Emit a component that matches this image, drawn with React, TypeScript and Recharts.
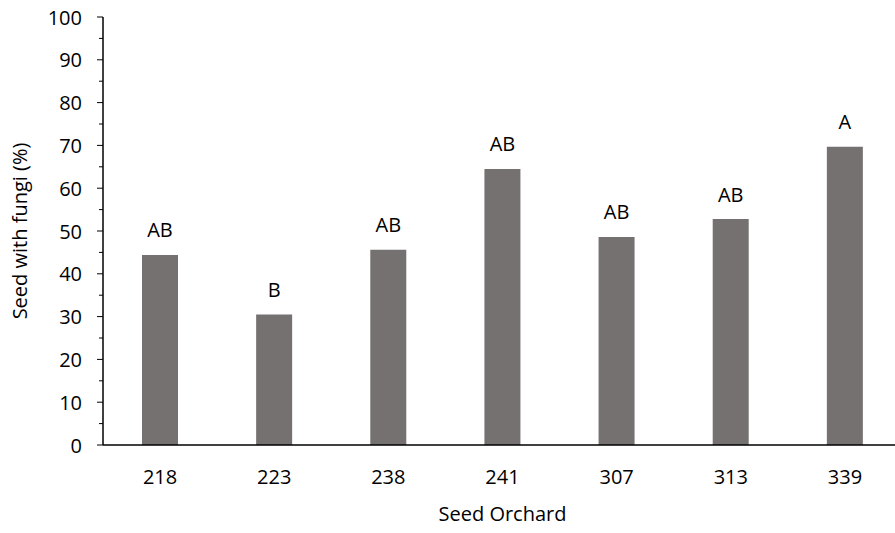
import { BarChart, Bar, XAxis, YAxis, LabelList, Label } from "recharts";

const orchards = ["218", "223", "238", "241", "307", "313", "339"];
const fungiPct = [44.4, 30.5, 45.6, 64.5, 48.6, 52.8, 69.7];
const groups = ["AB", "B", "AB", "AB", "AB", "AB", "A"];
const yTicks = [0, 5, 10, 15, 20, 25, 30, 35, 40, 45, 50, 55, 60, 65, 70, 75, 80, 85, 90, 95, 100];

const data = orchards.map((o, i) => ({ orchard: o, value: fungiPct[i], group: groups[i] }));

const FONT = "'Open Sans', sans-serif";

function YTick({ x, y, payload }: any) {
  const v = payload.value as number;
  const major = v % 10 === 0;
  return (
    <g>
      <line x1={x - (major ? 6 : 4)} x2={x} y1={y} y2={y} stroke="#000" strokeWidth={1} />
      {major && (
        <text x={x - 21} y={y} textAnchor="end" dominantBaseline="central" fontSize={20} fontFamily={FONT} fill="#000">
          {v}
        </text>
      )}
    </g>
  );
}

function XTick({ x, y, payload }: any) {
  return (
    <text x={x} y={y + 31} textAnchor="middle" dominantBaseline="central" fontSize={20} fontFamily={FONT} fill="#000">
      {payload.value}
    </text>
  );
}

function GroupLabel({ x, y, width, value }: any) {
  return (
    <text x={x + width / 2} y={y - 25} textAnchor="middle" dominantBaseline="central" fontSize={20} fontFamily={FONT} fill="#000">
      {value}
    </text>
  );
}

export default function App() {
  return (
    <div style={{ position: "absolute", left: 0, top: 0, width: 895, height: 533, overflow: "hidden", background: "#fff" }}>
      <BarChart width={905} height={533} data={data} margin={{ top: 17, right: 3, left: 0, bottom: 0 }}>
        <XAxis
          dataKey="orchard"
          height={88}
          tickLine={false}
          axisLine={{ stroke: "#000", strokeWidth: 1.5 }}
          tick={<XTick />}
          tickSize={0}
          tickMargin={0}
          interval={0}
        >
          <Label value="Seed Orchard" position="insideBottom" offset={12} style={{ fontSize: 20, fontFamily: FONT, fill: "#000" }} />
        </XAxis>
        <YAxis
          width={103}
          domain={[0, 100]}
          ticks={yTicks}
          interval={0}
          tickLine={false}
          axisLine={{ stroke: "#000", strokeWidth: 1.5 }}
          tick={<YTick />}
          tickSize={0}
          tickMargin={0}
        >
          <Label
            value="Seed with fungi (%)"
            angle={-90}
            position="insideLeft"
            offset={20}
            style={{ fontSize: 20, fontFamily: FONT, fill: "#000", textAnchor: "middle" }}
          />
        </YAxis>
        <Bar dataKey="value" fill="#767171" barSize={36} isAnimationActive={false}>
          <LabelList dataKey="group" content={<GroupLabel />} />
        </Bar>
      </BarChart>
    </div>
  );
}
